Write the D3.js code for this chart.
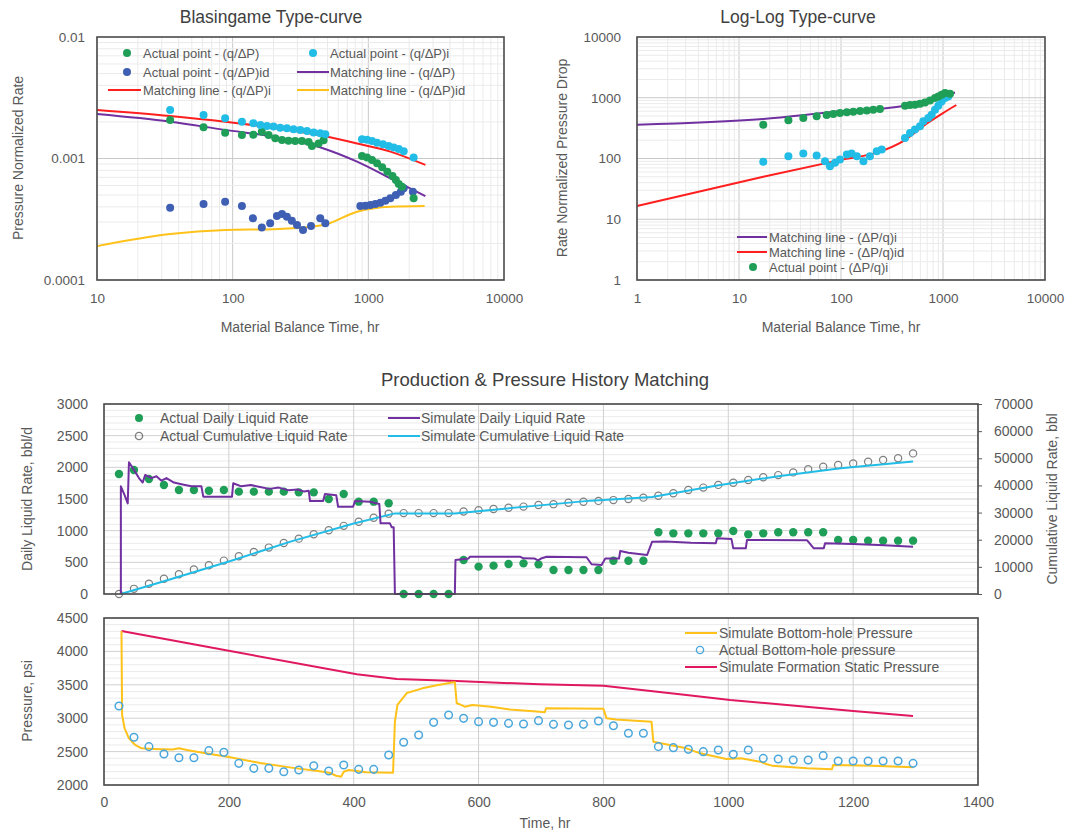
<!DOCTYPE html>
<html>
<head>
<meta charset="utf-8">
<script src="https://cdn.jsdelivr.net/npm/d3@7"></script>
<style>
body { margin: 0; background: #fff; }
</style>
</head>
<body>
<svg id="chart" width="1065" height="832"></svg>
<script>
// ---- Blasingame type-curve data (material balance time hr, normalized rate)
var blasActual = [[34.6,0.00207],[61,0.00181],[88,0.00163],[117,0.00156],[142,0.00157],[164,0.00166],[184,0.00156],[206,0.00147],[231,0.00142],[258,0.00140],[289,0.00139],[324,0.00139],[363,0.00137],[384,0.00127],[430,0.00133],[468,0.00141],[898,0.00105],[978,0.00102],[1064,0.000973],[1159,0.000913],[1265,0.000846],[1380,0.000779],[1507,0.000718],[1596,0.000665],[1675,0.000617],[1770,0.000586],[2158,0.000470]];
var blasActualI = [[34.6,0.00251],[61,0.00228],[88,0.00214],[117,0.00201],[142,0.00195],[160,0.00189],[179,0.00185],[200,0.00183],[224,0.00179],[251,0.00177],[281,0.00174],[315,0.00172],[353,0.00168],[395,0.00164],[442,0.00161],[482,0.00158],[898,0.00144],[978,0.00143],[1064,0.00139],[1159,0.00135],[1283,0.00131],[1413,0.00127],[1538,0.00123],[1675,0.00120],[1823,0.00115],[2158,0.00102]];
var blasActualId = [[34.6,0.000394],[61,0.000422],[88,0.000441],[117,0.000407],[141,0.000322],[164,0.000270],[189,0.000293],[212,0.000336],[231,0.000349],[251,0.000332],[273,0.000308],[298,0.000284],[330,0.000258],[378,0.000278],[442,0.000322],[482,0.000293],[873,0.000407],[951,0.000409],[1035,0.000414],[1127,0.000422],[1227,0.000433],[1335,0.000450],[1453,0.000470],[1596,0.000501],[1737,0.000533],[1823,0.000569],[2130,0.000533]];
var blasMatchI = [[10,0.00251],[34.6,0.00224],[88,0.00201],[200,0.00179],[468,0.00153],[826,0.00133],[1453,0.00114],[2634,0.000885]];
var blasMatch = [[10,0.00232],[34.6,0.00201],[88,0.00172],[200,0.00151],[468,0.00121],[826,0.000942],[1453,0.000687],[2634,0.000491]];
var blasMatchId = [[10,0.000190],[34.6,0.000239],[88,0.000258],[200,0.000262],[468,0.000284],[826,0.000365],[1453,0.000401],[2600,0.000407]];
var blasXTicks = [10, 100, 1000, 10000];
var blasYTicks = [0.0001, 0.001, 0.01];
var blasYLabels = ['0.0001', '0.001', '0.01'];

// ---- Log-log type-curve data
var llActualI = [[17.3,361],[30.5,425],[42.7,465],[57.7,494],[72.4,520],[84,540],[97.7,561],[114,575],[132,589],[154,604],[179,619],[207,636],[241,652],[424,740],[475,759],[531,768],[595,798],[666,837],[746,904],[835,989],[899,1052],[970,1120],[1047,1194],[1172,1164]];
var llActualId = [[17.3,88.3],[30.5,109],[42.7,121],[57.7,112],[69.7,90.4],[78,74.8],[87.3,84.9],[97.7,96.3],[114,116],[127,121],[143,109],[166,90.4],[192,109],[224,132],[251,141],[424,218],[475,264],[531,299],[595,339],[641,409],[718,465],[774,526],[835,636],[899,740],[970,871],[1047,989],[1127,1052]];
var llMatchI = [[1,361],[17.3,448],[97.7,597],[351,704],[746,904],[1312,1222]];
var llMatchId = [[1,16.5],[17.3,50],[100,95],[241,130],[400,190],[700,380],[1000,560],[1350,760]];
var llTicks = [1, 10, 100, 1000, 10000];

// ---- Production history (time hr)
var dayTimes = [24,48,72,96,120,144,168,192,216,240,264,288,312,336,360,384,408,432,456,480,504,528,552,576,600,624,648,672,696,720,744,768,792,816,840,864,888,912,936,960,984,1008,1032,1056,1080,1104,1128,1152,1176,1200,1224,1248,1272,1296];
var actualRate = [1895,1958,1816,1721,1642,1642,1631,1642,1616,1616,1616,1616,1605,1605,1500,1579,1458,1458,1432,0,0,0,0,537,432,448,474,484,468,379,379,379,379,526,526,526,974,958,958,958,958,995,942,958,974,974,974,974,853,853,842,842,842,842];
var actualCum = [0,1900,3800,5600,7300,9000,10600,12300,13900,15500,17100,18800,20400,22000,23500,25100,26600,28100,29600,29800,29800,29800,29800,30400,30900,31300,31800,32200,32800,33100,33600,34000,34300,34600,35000,35500,36200,37100,38300,39200,40200,41000,42000,43000,43800,44800,46000,46900,47500,48100,48700,49400,50000,51800];
var simRate = [[27,0],[27,1700],[33,1560],[38,1430],[40,2080],[48,1960],[56,1830],[62,1760],[66,1880],[76,1830],[84,1860],[92,1790],[100,1830],[112,1760],[126,1730],[140,1700],[156,1700],[159,1537],[205,1537],[207,1748],[220,1700],[235,1720],[250,1690],[265,1660],[280,1680],[295,1640],[310,1650],[320,1620],[328,1630],[330,1468],[351,1468],[354,1580],[372,1560],[375,1378],[399,1378],[402,1468],[426,1458],[441,1420],[443,1116],[458,1116],[461,1053],[464,1053],[466,0],[562,0],[563,537],[584,560],[586,589],[666,589],[672,563],[690,560],[695,530],[700,560],[709,589],[773,580],[781,470],[797,458],[803,560],[825,560],[827,679],[840,650],[870,616],[878,826],[900,830],[940,810],[980,800],[982,879],[1005,870],[1008,721],[1028,721],[1030,853],[1126,850],[1137,721],[1153,721],[1155,800],[1200,790],[1250,770],[1296,747]];
var simCum = [[27,0],[100,5000],[200,12000],[300,19400],[400,26000],[466,29700],[562,29700],[672,32100],[780,34400],[878,35700],[982,40000],[1080,43400],[1180,46300],[1296,48800]];

// ---- Pressure history
var actualBhp = [3183,2714,2574,2464,2409,2409,2514,2489,2324,2249,2249,2199,2224,2289,2209,2299,2234,2234,2449,2639,2749,2938,3048,2998,2948,2938,2923,2913,2963,2908,2898,2908,2958,2888,2774,2774,2574,2559,2534,2499,2524,2459,2524,2399,2389,2374,2374,2439,2359,2359,2359,2359,2359,2324];
var simBhp = [[28,4305],[29,3048],[33,2849],[40,2699],[50,2599],[60,2549],[80,2540],[110,2530],[120,2550],[135,2520],[160,2480],[200,2420],[250,2330],[300,2260],[351,2199],[362,2180],[372,2139],[380,2125],[384,2199],[392,2224],[420,2190],[463,2184],[466,2948],[470,3198],[485,3377],[510,3447],[535,3497],[560,3537],[562,3540],[565,3223],[572,3200],[578,3172],[590,3198],[620,3170],[650,3130],[698,3097],[706,3088],[708,3148],[800,3140],[805,2998],[820,2980],[877,2948],[880,2649],[890,2630],[933,2549],[955,2474],[997,2389],[1020,2400],[1051,2349],[1062,2310],[1070,2290],[1126,2250],[1166,2235],[1168,2300],[1230,2290],[1296,2265]];
var simStatic = [[28,4305],[202,4006],[405,3657],[469,3587],[565,3557],[698,3507],[800,3487],[933,3347],[1003,3272],[1200,3108],[1296,3033]];

var rateTicks = [0,500,1000,1500,2000,2500,3000];
var cumTicks = [0,10000,20000,30000,40000,50000,60000,70000];
var pressTicks = [2000,2500,3000,3500,4000,4500];
var timeTicks = [0,200,400,600,800,1000,1200,1400];

// colours
var cGreen = '#1f9e57', cCyan = '#22bde6', cBlue = '#3e5fb3', cPurple = '#7030a0',
    cRed = '#ff1f1f', cYellow = '#ffc21a', cMagenta = '#e0185f', cGray = '#7f7f7f', cLtBlue = '#4aa7dc';

var FONT = '"Liberation Sans", Arial, sans-serif';
var TXT = '#595959';

var svg = d3.select('#chart');
svg.append('rect').attr('width', 1065).attr('height', 832).attr('fill', '#fff');

function label(x, y, str, size, opts) {
    opts = opts || {};
    var t = svg.append('text')
        .attr('x', x).attr('y', y)
        .attr('font-family', FONT)
        .attr('font-size', size)
        .attr('fill', opts.color || TXT)
        .attr('text-anchor', opts.anchor || 'middle')
        .text(str);
    if (opts.rotate) {
        t.attr('transform', 'rotate(-90,' + x + ',' + y + ')')
         .attr('dominant-baseline', 'central');
    }
    return t;
}

function styleAxis(g) {
    g.attr('font-family', FONT).attr('font-size', 13.5);
    g.select('.domain').remove();
    g.selectAll('text').attr('fill', TXT);
}

function logGrid(x, y) {
    var g = svg.append('g');
    var xs = [], ys = [];
    var xd = x.domain(), yd = y.domain();
    for (var d = xd[0]; d < xd[1] * 0.99; d *= 10)
        for (var m = 1; m < 10; m++) xs.push({ v: d * m, major: m === 1 });
    for (var e = yd[0]; e < yd[1] * 0.99; e *= 10)
        for (var n = 1; n < 10; n++) ys.push({ v: e * n, major: n === 1 });
    g.selectAll('.gx').data(xs).enter().append('line')
        .attr('x1', d => x(d.v)).attr('x2', d => x(d.v))
        .attr('y1', y.range()[0]).attr('y2', y.range()[1])
        .attr('stroke', d => d.major ? '#c9c9c9' : '#ebebeb').attr('stroke-width', 1);
    g.selectAll('.gy').data(ys).enter().append('line')
        .attr('y1', d => y(d.v)).attr('y2', d => y(d.v))
        .attr('x1', x.range()[0]).attr('x2', x.range()[1])
        .attr('stroke', d => d.major ? '#c9c9c9' : '#ebebeb').attr('stroke-width', 1);
}

function frame(x, y) {
    var x0 = x.range()[0], x1 = x.range()[1], y0 = y.range()[1], y1 = y.range()[0];
    svg.append('rect').attr('x', x0).attr('y', y0)
        .attr('width', x1 - x0).attr('height', y1 - y0)
        .attr('fill', 'none').attr('stroke', '#4a4a4a').attr('stroke-width', 1.6);
}

function drawLine(data, x, y, color, curve) {
    svg.append('path').datum(data)
        .attr('d', d3.line().x(d => x(d[0])).y(d => y(d[1])).curve(curve || d3.curveLinear))
        .attr('fill', 'none').attr('stroke', color).attr('stroke-width', 2)
        .attr('stroke-linejoin', 'round');
}

function drawDots(data, x, y, color, r) {
    svg.append('g').selectAll('circle').data(data).enter().append('circle')
        .attr('cx', d => x(d[0])).attr('cy', d => y(d[1])).attr('r', r || 4)
        .attr('fill', color);
}

function drawRings(data, x, y, color, r, sw) {
    svg.append('g').selectAll('circle').data(data).enter().append('circle')
        .attr('cx', d => x(d[0])).attr('cy', d => y(d[1])).attr('r', r || 3.6)
        .attr('fill', 'none').attr('stroke', color).attr('stroke-width', sw || 1.3);
}

function legendItem(x, y, type, color, text, lineFrom, lineTo, size) {
    if (type === 'line') {
        svg.append('line').attr('x1', lineFrom).attr('x2', lineTo)
            .attr('y1', y).attr('y2', y).attr('stroke', color).attr('stroke-width', 2);
    } else if (type === 'dot') {
        svg.append('circle').attr('cx', (lineFrom + lineTo) / 2).attr('cy', y).attr('r', 4).attr('fill', color);
    } else {
        svg.append('circle').attr('cx', (lineFrom + lineTo) / 2).attr('cy', y).attr('r', 3.6)
            .attr('fill', 'none').attr('stroke', color).attr('stroke-width', 1.4);
    }
    label(x, y + 4.5, text, size || 13, { anchor: 'start' });
}

// ================= Chart 1: Blasingame =================
var x1 = d3.scaleLog().domain([10, 10000]).range([97, 504]);
var y1 = d3.scaleLog().domain([0.0001, 0.01]).range([280, 37]);
logGrid(x1, y1);

svg.append('g').attr('transform', 'translate(0,280)')
    .call(d3.axisBottom(x1).tickValues(blasXTicks).tickFormat(d3.format('d')).tickSize(0).tickPadding(13))
    .call(styleAxis);
svg.append('g').attr('transform', 'translate(97,0)')
    .call(d3.axisLeft(y1).tickValues(blasYTicks).tickFormat((d, i) => blasYLabels[i]).tickSize(0).tickPadding(12))
    .call(styleAxis);

drawLine(blasMatchId, x1, y1, cYellow, d3.curveMonotoneX);
drawLine(blasMatchI, x1, y1, cRed, d3.curveMonotoneX);
drawLine(blasMatch, x1, y1, cPurple, d3.curveMonotoneX);
drawDots(blasActualId, x1, y1, cBlue);
drawDots(blasActual, x1, y1, cGreen);
drawDots(blasActualI, x1, y1, cCyan);
frame(x1, y1);

legendItem(143, 53, 'dot', cGreen, 'Actual point - (q/\u0394P)', 121, 133);
legendItem(143, 72, 'dot', cBlue, 'Actual point - (q/\u0394P)id', 121, 133);
legendItem(143, 90, 'line', cRed, 'Matching line - (q/\u0394P)i', 108, 141);
legendItem(330, 53, 'dot', cCyan, 'Actual point - (q/\u0394P)i', 307, 319);
legendItem(330, 72, 'line', cPurple, 'Matching line - (q/\u0394P)', 297, 329);
legendItem(330, 90, 'line', cYellow, 'Matching line - (q/\u0394P)id', 297, 329);

label(271, 23, 'Blasingame Type-curve', 17.5, { color: '#404040' });
label(300, 332, 'Material Balance Time, hr', 14);
label(18, 158, 'Pressure Normalized Rate', 14, { rotate: true });

// ================= Chart 2: Log-Log =================
var x2 = d3.scaleLog().domain([1, 10000]).range([637, 1045]);
var y2 = d3.scaleLog().domain([1, 10000]).range([280, 37]);
logGrid(x2, y2);

svg.append('g').attr('transform', 'translate(0,280)')
    .call(d3.axisBottom(x2).tickValues(llTicks).tickFormat(d3.format('d')).tickSize(0).tickPadding(13))
    .call(styleAxis);
svg.append('g').attr('transform', 'translate(637,0)')
    .call(d3.axisLeft(y2).tickValues(llTicks).tickFormat(d3.format('d')).tickSize(0).tickPadding(16))
    .call(styleAxis);

drawLine(llMatchId, x2, y2, cRed, d3.curveMonotoneX);
drawLine(llMatchI, x2, y2, cPurple, d3.curveMonotoneX);
drawDots(llActualId, x2, y2, cCyan);
drawDots(llActualI, x2, y2, cGreen);
frame(x2, y2);

legendItem(769, 237, 'line', cPurple, 'Matching line - (\u0394P/q)i', 737, 767);
legendItem(769, 252, 'line', cRed, 'Matching line - (\u0394P/q)id', 737, 767);
legendItem(769, 267, 'dot', cGreen, 'Actual point - (\u0394P/q)i', 747, 759);

label(798, 23, 'Log-Log Type-curve', 17.5, { color: '#404040' });
label(841, 332, 'Material Balance Time, hr', 14);
label(562, 158, 'Rate Normalized Pressure Drop', 14, { rotate: true });

// ================= Chart 3: Production history =================
var xT = d3.scaleLinear().domain([0, 1400]).range([104, 978]);
var yRate = d3.scaleLinear().domain([0, 3000]).range([594, 404]);
var yCum = d3.scaleLinear().domain([0, 70000]).range([594, 404]);

function linGrid(x, y, minorStep, majorStep) {
    var g = svg.append('g');
    var yd = y.domain();
    var minors = d3.range(yd[0], yd[1] + 1, minorStep).filter(v => v % majorStep !== 0);
    g.selectAll('.mn').data(minors).enter().append('line')
        .attr('x1', x.range()[0]).attr('x2', x.range()[1])
        .attr('y1', d => y(d)).attr('y2', d => y(d))
        .attr('stroke', '#ebebeb');
    g.selectAll('.mj').data(d3.range(yd[0], yd[1] + 1, majorStep)).enter().append('line')
        .attr('x1', x.range()[0]).attr('x2', x.range()[1])
        .attr('y1', d => y(d)).attr('y2', d => y(d))
        .attr('stroke', '#d0d0d0');
    g.selectAll('.vx').data(timeTicks).enter().append('line')
        .attr('x1', d => x(d)).attr('x2', d => x(d))
        .attr('y1', y.range()[0]).attr('y2', y.range()[1])
        .attr('stroke', '#d0d0d0');
}
linGrid(xT, yRate, 100, 500);

svg.append('g').attr('transform', 'translate(104,0)')
    .call(d3.axisLeft(yRate).tickValues(rateTicks).tickFormat(d3.format('d')).tickSize(0).tickPadding(16))
    .call(styleAxis)
    .attr('font-size', 14);
svg.append('g').attr('transform', 'translate(978,0)')
    .call(d3.axisRight(yCum).tickValues(cumTicks).tickFormat(d3.format('d')).tickSize(4).tickPadding(12))
    .call(styleAxis)
    .attr('font-size', 14)
    .call(g => g.selectAll('line').attr('stroke', '#595959'));

var rateData = dayTimes.map((t, i) => [t, actualRate[i]]);
var cumData = dayTimes.map((t, i) => [t, actualCum[i]]);
drawDots(rateData, xT, yRate, cGreen, 4.2);
drawRings(cumData, xT, yCum, cGray, 3.6, 1.2);
drawLine(simCum, xT, yCum, cCyan);
drawLine(simRate, xT, yRate, cPurple);
frame(xT, yRate);

legendItem(160, 418, 'dot', cGreen, 'Actual Daily Liquid Rate', 133, 145, 14);
legendItem(160, 436, 'ring', cGray, 'Actual Cumulative Liquid Rate', 133, 145, 14);
legendItem(421, 418, 'line', cPurple, 'Simulate Daily Liquid Rate', 388, 420, 14);
legendItem(421, 436, 'line', cCyan, 'Simulate Cumulative Liquid Rate', 388, 420, 14);

label(545, 386, 'Production & Pressure History Matching', 18.5, { color: '#404040' });
label(27, 499, 'Daily Liquid Rate, bbl/d', 14, { rotate: true });
label(1052, 499, 'Cumulative Liquid Rate, bbl', 14, { rotate: true });

// ================= Chart 4: Pressure history =================
var yP = d3.scaleLinear().domain([2000, 4500]).range([785, 618]);
linGrid(xT, yP, 100, 500);

svg.append('g').attr('transform', 'translate(104,0)')
    .call(d3.axisLeft(yP).tickValues(pressTicks).tickFormat(d3.format('d')).tickSize(0).tickPadding(16))
    .call(styleAxis)
    .attr('font-size', 14);
svg.append('g').attr('transform', 'translate(0,785)')
    .call(d3.axisBottom(xT).tickValues(timeTicks).tickFormat(d3.format('d')).tickSize(0).tickPadding(12))
    .call(styleAxis)
    .attr('font-size', 14);

var bhpData = dayTimes.map((t, i) => [t, actualBhp[i]]);
drawLine(simStatic, xT, yP, cMagenta);
drawLine(simBhp, xT, yP, cYellow);
drawRings(bhpData, xT, yP, cLtBlue, 3.8, 1.5);
frame(xT, yP);

legendItem(719, 633, 'line', cYellow, 'Simulate Bottom-hole Pressure', 685, 717, 14);
legendItem(719, 650, 'ring', cLtBlue, 'Actual Bottom-hole pressure', 694, 706, 14);
legendItem(719, 667, 'line', cMagenta, 'Simulate Formation Static Pressure', 685, 717, 14);

label(27, 701, 'Pressure, psi', 14, { rotate: true });
label(545, 828, 'Time, hr', 14);
</script>
</body>
</html>
